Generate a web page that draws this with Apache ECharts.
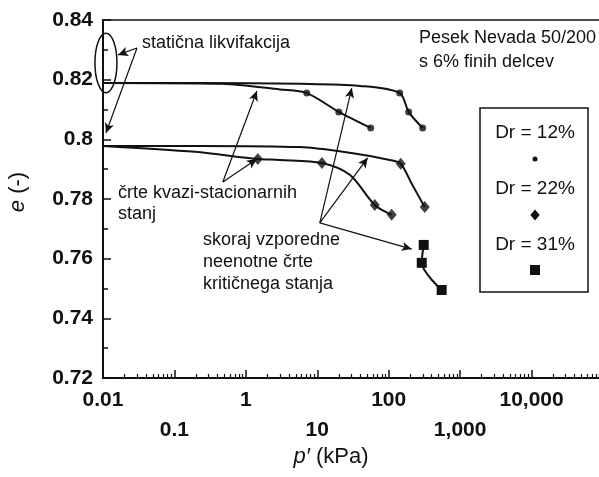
<!DOCTYPE html>
<html><head><meta charset="utf-8">
<script src="https://cdn.jsdelivr.net/npm/echarts@6/dist/echarts.min.js"></script>
<style>html,body{margin:0;padding:0;background:#fff}#c{width:599px;height:477px}</style>
</head><body><div id="c"></div>
<script>
// ---- data (p' in kPa, e in -) ----
const xTickLabels = ['0.01', '0.1', '1', '10', '100', '1,000', '10,000'];
const yTickValues = [0.72, 0.74, 0.76, 0.78, 0.8, 0.82, 0.84];

// upper group (Dr = 12%)
const upperCssP = [0.01, 0.228, 5.69, 39.3, 142.6, 190, 299];
const upperCssE = [0.8189, 0.8189, 0.8186, 0.8179, 0.8155, 0.8092, 0.8038];
const upperQssP = [0.01, 0.461, 2.99, 7.13, 20.0, 56.0];
const upperQssE = [0.8189, 0.8186, 0.8167, 0.8155, 0.8092, 0.8038];
const dr12P = [7.13, 20.0, 56.0, 142.6, 190, 299];
const dr12E = [0.8155, 0.8092, 0.8038, 0.8155, 0.8092, 0.8038];

// lower group (Dr = 22%)
const lowerCssP = [0.01, 0.228, 5.69, 28.5, 103, 147, 210, 319];
const lowerCssE = [0.7978, 0.7978, 0.7974, 0.7955, 0.7931, 0.7918, 0.7851, 0.7773];
const lowerQssP = [0.01, 0.194, 1.47, 2.99, 11.6, 28.5, 63.7, 110];
const lowerQssE = [0.7978, 0.7958, 0.7934, 0.7931, 0.7921, 0.7881, 0.7780, 0.7747];
const dr22P = [1.47, 11.6, 63.7, 110, 147, 319];
const dr22E = [0.7934, 0.7921, 0.7780, 0.7747, 0.7918, 0.7773];

// Dr = 31%
const dr31P = [309, 290, 551];
const dr31E = [0.7646, 0.7586, 0.7495];

// annotation arrows: [fromP, fromE, toP, toE]
const arrows = [
  [0.0299, 0.8306, 0.01622, 0.8283],
  [0.0299, 0.8306, 0.01101, 0.8021],
  [0.476, 0.7857, 1.426, 0.8162],
  [0.476, 0.7857, 1.426, 0.7934],
  [10.84, 0.7720, 30.4, 0.8172],
  [10.84, 0.7720, 50.8, 0.7938],
  [10.84, 0.7720, 210, 0.7632]
];

const zip = (a, b) => a.map((v, i) => [v, b[i]]);
const INK = '#111';
const FONT = '"Liberation Sans", Arial, sans-serif';

// minor log ticks 2..9 per decade
const minorX = [];
for (let d = -2; d <= 4; d++) for (let k = 2; k <= 9; k++) minorX.push(+(k * Math.pow(10, d)).toPrecision(3));

const chart = echarts.init(document.getElementById('c'), null, {renderer: 'canvas'});

const lineStyle = {color: INK, width: 2};
const option = {
  backgroundColor: '#fff',
  animation: false,
  grid: {left: 103, top: 20, right: -4, bottom: 99, outerBoundsMode: 'none', containLabel: false,
    show: true, borderColor: INK, borderWidth: 1.5, backgroundColor: 'transparent'},
  xAxis: [{
    type: 'log', logBase: 10, min: 0.01, max: 100000, position: 'bottom',
    axisLine: {show: true, lineStyle: {color: INK, width: 2}},
    axisTick: {show: true, inside: true, length: 8, lineStyle: {color: INK, width: 1.5}},
    splitLine: {show: false},
    axisLabel: {
      interval: 0, margin: 7, color: INK, fontFamily: FONT, fontSize: 21, fontWeight: 'bold', lineHeight: 30,
      formatter: function (v) {
        const k = Math.round(Math.log10(v)) + 2;
        const lab = xTickLabels[k];
        if (lab === undefined) return '';
        return k % 2 === 1 ? '\n' + lab : lab;
      }
    }
  }, {
    type: 'log', logBase: 10, min: 0.01, max: 100000, position: 'bottom', gridIndex: 0,
    axisLine: {show: false},
    axisTick: {show: true, inside: true, length: 4, customValues: minorX, lineStyle: {color: INK, width: 1.2}},
    axisLabel: {show: false},
    splitLine: {show: false}
  }],
  yAxis: {
    type: 'value', min: 0.72, max: 0.84, interval: 0.02,
    axisLine: {show: true, lineStyle: {color: INK, width: 2}},
    axisTick: {show: true, inside: true, length: 8, lineStyle: {color: INK, width: 1.5}},
    minorTick: {show: true, splitNumber: 2, length: 5, lineStyle: {color: INK, width: 1.5}},
    splitLine: {show: false},
    axisLabel: {
      margin: 10, color: INK, fontFamily: FONT, fontSize: 21, fontWeight: 'bold', padding: [6, 0, 0, 0],
      formatter: v => String(parseFloat(v.toFixed(2)))
    }
  },
  series: [
    {type: 'line', name: 'upperCss', data: zip(upperCssP, upperCssE), showSymbol: false, smooth: 0.3, lineStyle: lineStyle},
    {type: 'line', name: 'upperQss', data: zip(upperQssP, upperQssE), showSymbol: false, smooth: 0.3, lineStyle: lineStyle},
    {type: 'line', name: 'lowerCss', data: zip(lowerCssP, lowerCssE), showSymbol: false, smooth: 0.3, lineStyle: lineStyle},
    {type: 'line', name: 'lowerQss', data: zip(lowerQssP, lowerQssE), showSymbol: false, smooth: 0.3, lineStyle: lineStyle},
    {type: 'line', name: 'Dr = 31%', data: zip(dr31P, dr31E), showSymbol: true, symbol: 'rect', symbolSize: 10,
      smooth: 0.3, lineStyle: lineStyle, itemStyle: {color: INK}},
    {type: 'scatter', name: 'Dr = 12%', data: zip(dr12P, dr12E), symbol: 'circle', symbolSize: 7, itemStyle: {color: INK}},
    {type: 'scatter', name: 'Dr = 22%', data: zip(dr22P, dr22E), symbol: 'diamond', symbolSize: [10, 12], itemStyle: {color: INK}},
    {type: 'scatter', name: 'arrows', data: [], silent: true,
      markLine: {
        silent: true, symbol: ['none', 'arrow'], symbolSize: [7, 10], precision: 6,
        lineStyle: {color: INK, width: 1.2, type: 'solid'}, label: {show: false},
        emphasis: {disabled: true},
        data: arrows.map(a => [{coord: [a[0], a[1]]}, {coord: [a[2], a[3]]}])
      }}
  ]
};
chart.setOption(option);

// annotations & legend box
const c0 = chart.convertToPixel({gridIndex: 0}, [0.011, 0.8256]);
const cTop = chart.convertToPixel({gridIndex: 0}, [0.011, 0.8356]);
const txt = (x, y, text, size, extra) => Object.assign({
  type: 'text', x: x, y: y, silent: true,
  style: Object.assign({text: text, fill: INK, font: size + 'px ' + FONT, align: 'left', verticalAlign: 'middle'}, extra || {})
});
const diamond = (cx, cy, r) => ({type: 'polygon', shape: {points: [[cx, cy - r], [cx + r * 0.85, cy], [cx, cy + r], [cx - r * 0.85, cy]]}, style: {fill: INK}});

chart.setOption({
  graphic: [
    {type: 'ellipse', shape: {cx: c0[0], cy: c0[1], rx: 11, ry: Math.abs(c0[1] - cTop[1])}, style: {fill: 'none', stroke: INK, lineWidth: 1.5}, silent: true},
    txt(142, 43, 'statična likvifakcija', 18),
    txt(419, 38, 'Pesek Nevada 50/200', 18),
    txt(419, 62, 's 6% finih delcev', 18),
    txt(118, 193, 'črte kvazi-stacionarnih', 18),
    txt(118, 214, 'stanj', 18),
    txt(203, 240, 'skoraj vzporedne', 18),
    txt(203, 262, 'neenotne črte', 18),
    txt(203, 284, 'kritičnega stanja', 18),
    {type: 'rect', shape: {x: 480, y: 108, width: 108, height: 184}, style: {fill: '#fff', stroke: INK, lineWidth: 1.5}, silent: true},
    txt(535, 133, 'Dr = 12%', 19, {align: 'center'}),
    {type: 'circle', shape: {cx: 535, cy: 159, r: 2.5}, style: {fill: INK}},
    txt(535, 189, 'Dr = 22%', 19, {align: 'center'}),
    diamond(535, 215, 5.5),
    txt(535, 245, 'Dr = 31%', 19, {align: 'center'}),
    {type: 'rect', shape: {x: 530, y: 265, width: 10, height: 10}, style: {fill: INK}},
    // axis titles
    {type: 'text', x: 331, y: 457, silent: true,
      style: {text: '{i|p′} (kPa)', fill: INK, font: '22px ' + FONT, align: 'center', verticalAlign: 'middle',
        rich: {i: {fontStyle: 'italic', fontSize: 22, fontFamily: FONT, fill: INK}}}},
    {type: 'text', x: 18, y: 192, rotation: Math.PI / 2, silent: true,
      style: {text: '{i|e} (-)', fill: INK, font: '22px ' + FONT, align: 'center', verticalAlign: 'middle',
        rich: {i: {fontStyle: 'italic', fontSize: 22, fontFamily: FONT, fill: INK}}}}
  ]
});
</script>
</body></html>
